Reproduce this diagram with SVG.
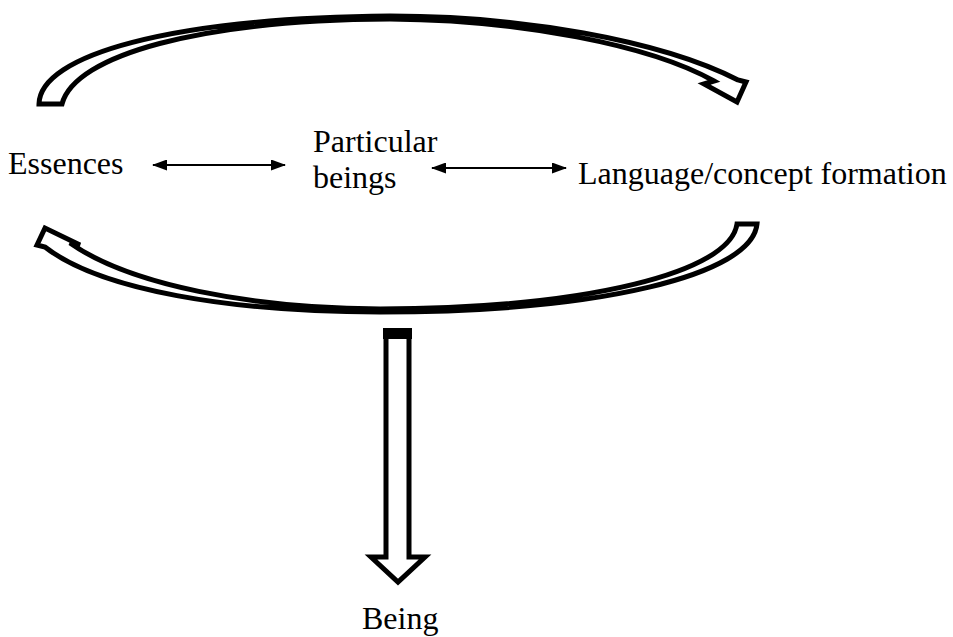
<svg xmlns="http://www.w3.org/2000/svg" width="953" height="637" viewBox="0 0 953 637">
  <style>
    .lbl { font-family: "Liberation Serif", "Times New Roman", serif; font-size: 32px; fill: #000; }
    .block { fill: #fff; stroke: #000; stroke-width: 5; stroke-linejoin: miter; }
    .link { stroke: #000; stroke-width: 2.2; fill: none; }
  </style>
  <defs>
    <marker id="head" viewBox="0 0 15 11" refX="14" refY="5.5" markerWidth="15" markerHeight="11" markerUnits="userSpaceOnUse" orient="auto-start-reverse">
      <path d="M0,0 L15,5.5 L0,11 Z" fill="#000"/>
    </marker>
  </defs>

  <rect width="953" height="637" fill="#fff"/>

  <!-- cycle arrows -->
  <g id="cycle-top">
    <path class="block" d="M39,104 C40,55 170,18 390,16 C520,16 660,40 738,80 L746,82 L737,102 L704,84 L714,81 C650,45 520,20 390,19 C200,20 75,55 62,104 Z"/>
  </g>
  <g id="cycle-bottom">
    <path class="block" d="M757,224 C752,275 600,312 380,312 C230,312 100,290 45,247 L37,245 L45,228 L80,245 L70,243 C130,285 250,308 380,309 C590,308 730,272 737,224 Z"/>
  </g>

  <!-- downward block arrow -->
  <g id="down-arrow">
    <path class="block" d="M386,334 L409,334 L409,557 L425,557 L398,582 L371,557 L386,557 Z"/>
    <rect x="383" y="328" width="29" height="11" fill="#000"/>
  </g>

  <!-- nodes -->
  <g id="essences">
    <text class="lbl" x="8" y="174">Essences</text>
  </g>
  <g id="particular-beings">
    <text class="lbl" x="313" y="152">Particular</text>
    <text class="lbl" x="313" y="188">beings</text>
  </g>
  <g id="language">
    <text class="lbl" x="578" y="184">Language/concept formation</text>
  </g>
  <g id="being">
    <text class="lbl" x="362" y="629">Being</text>
  </g>

  <!-- connectors -->
  <g id="connectors">
    <line class="link" x1="153" y1="165" x2="285" y2="165" marker-start="url(#head)" marker-end="url(#head)"/>
    <line class="link" x1="432" y1="168" x2="566" y2="168" marker-start="url(#head)" marker-end="url(#head)"/>
  </g>
</svg>
